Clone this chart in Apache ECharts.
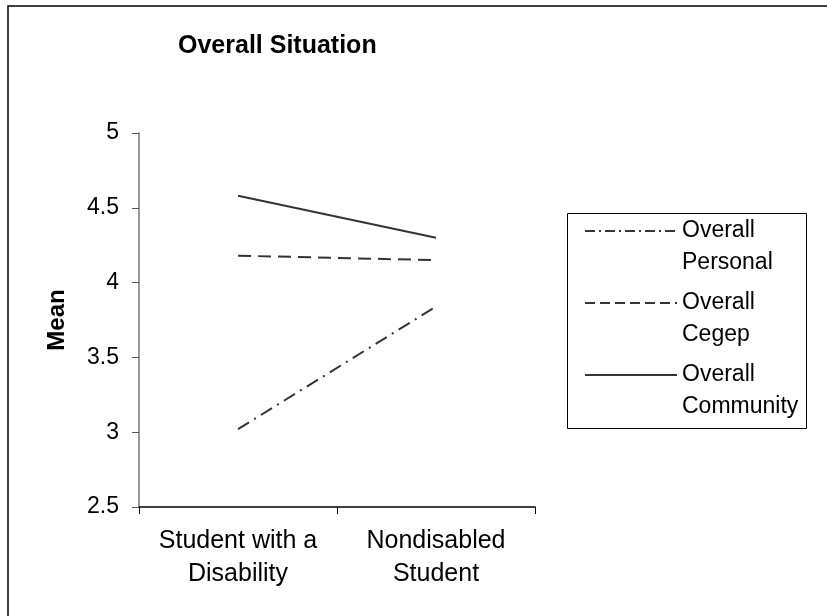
<!DOCTYPE html>
<html>
<head>
<meta charset="utf-8">
<script src="https://cdn.jsdelivr.net/npm/echarts@6/dist/echarts.min.js"></script>
<style>
html,body{margin:0;padding:0;background:#fff;}
#chart{width:827px;height:616px;}
</style>
</head>
<body>
<div id="chart"></div>
<script>
var titleText = 'Overall Situation';
var yAxisName = 'Mean';
var categories = ['Student with a\nDisability', 'Nondisabled\nStudent'];
var seriesNames = ['Overall Personal', 'Overall Cegep', 'Overall Community'];
var legendLabels = ['Overall\nPersonal', 'Overall\nCegep', 'Overall\nCommunity'];
var personal = [3.02, 3.84];
var cegep = [4.18, 4.15];
var community = [4.58, 4.30];
var yMin = 2.5, yMax = 5, yStep = 0.5;

var FONT = '"Liberation Sans", Arial, sans-serif';
var chart = echarts.init(document.getElementById('chart'), null, {renderer: 'canvas'});

var dashes = [[13, 6, 2, 6], [13, 7], 'solid'];
var legendDashes = [[10, 4, 2, 4], [10, 5], 'solid'];
var values = [personal, cegep, community];

var series = seriesNames.map(function (n, i) {
  return {
    name: n,
    type: 'line',
    data: values[i],
    symbol: 'none',
    silent: true,
    lineStyle: {color: '#333', width: 2, type: dashes[i]},
    itemStyle: {color: '#333'}
  };
});

var legendMap = {};
seriesNames.forEach(function (n, i) { legendMap[n] = legendLabels[i]; });

chart.setOption({
  animation: false,
  backgroundColor: '#fff',
  title: {
    text: titleText,
    left: 178,
    top: 34,
    padding: 0,
    textStyle: {fontFamily: FONT, fontSize: 25, fontWeight: 'bold', color: '#000'}
  },
  graphic: [
    {type: 'rect', shape: {x: 8, y: 6, width: 900, height: 700}, style: {fill: 'none', stroke: '#000', lineWidth: 1.5}, z: 100, silent: true},
    {type: 'rect', shape: {x: 567.5, y: 213.5, width: 239, height: 215}, style: {fill: 'none', stroke: '#000', lineWidth: 1}, z: 100, silent: true}
  ],
  legend: {
    orient: 'vertical',
    left: 584,
    top: 183,
    padding: 0,
    itemGap: -24,
    itemWidth: 92,
    itemHeight: 14,
    selectedMode: false,
    itemStyle: {color: 'rgba(0,0,0,0)', borderColor: 'rgba(0,0,0,0)', borderWidth: 0, opacity: 0},
    data: seriesNames.map(function (n, i) {
      return {
        name: n,
        itemStyle: {color: 'rgba(0,0,0,0)', borderColor: 'rgba(0,0,0,0)', borderWidth: 0, opacity: 0},
        lineStyle: {color: '#333', width: 2, type: legendDashes[i], opacity: 1}
      };
    }),
    formatter: function (n) { return '\n' + legendMap[n]; },
    textStyle: {fontFamily: FONT, fontSize: 23, color: '#000', lineHeight: 32}
  },
  grid: {left: 139, top: 133, right: 292, bottom: 109, containLabel: false},
  xAxis: {
    type: 'category',
    data: categories,
    boundaryGap: true,
    axisLine: {lineStyle: {color: '#000', width: 1.5}},
    axisTick: {show: true, length: 7, alignWithLabel: false, lineStyle: {color: '#000'}},
    axisLabel: {fontFamily: FONT, fontSize: 25, color: '#000', margin: 18, lineHeight: 33, interval: 0},
    splitLine: {show: false}
  },
  yAxis: {
    type: 'value',
    min: yMin,
    max: yMax,
    interval: yStep,
    name: yAxisName,
    nameLocation: 'middle',
    nameGap: 70,
    nameTextStyle: {fontFamily: FONT, fontSize: 24, fontWeight: 'bold', color: '#000'},
    axisLine: {show: true, lineStyle: {color: '#777', width: 1.5}},
    axisTick: {show: true, length: 7, lineStyle: {color: '#555'}},
    axisLabel: {fontFamily: FONT, fontSize: 23, color: '#000', margin: 20,
      formatter: function (v) { return String(Math.round(v * 10) / 10); }},
    splitLine: {show: false}
  },
  series: series
});
</script>
</body>
</html>
